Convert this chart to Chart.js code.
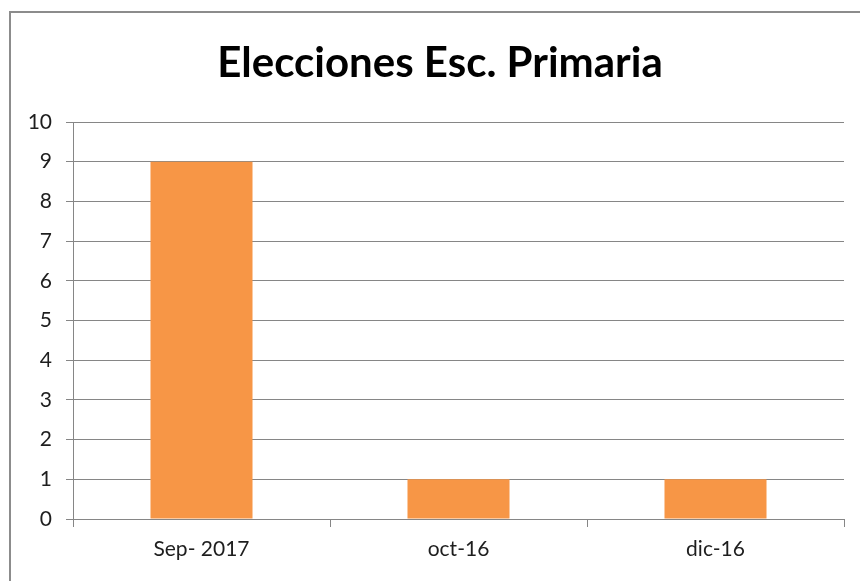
<!DOCTYPE html>
<html>
<head>
<meta charset="utf-8">
<script src="https://cdn.jsdelivr.net/npm/chart.js@4"></script>
<style>
  html, body { margin: 0; padding: 0; background: #fff; overflow: hidden; }
  #wrap { position: relative; width: 860px; height: 581px; }
  #frame { position: absolute; left: 9px; top: 11px; width: 900px; height: 600px;
           border-left: 2px solid #8c8c8c; border-top: 2px solid #8c8c8c; }
  canvas { position: absolute; left: 0; top: 0; }
</style>
</head>
<body>
<div id="wrap">
  <div id="frame"></div>
  <canvas id="chart" width="860" height="581"></canvas>
</div>
<script>
const categories = ['Sep- 2017', 'oct-16', 'dic-16'];
const votes = [9, 1, 1];
const chartTitle = 'Elecciones Esc. Primaria';

const fontFamily = 'Lato, "Open Sans", sans-serif';

// title drawn centred on the whole Excel chart box, not the canvas
const titlePlugin = {
  id: 'boxTitle',
  afterDraw(chart) {
    const ctx = chart.ctx;
    ctx.save();
    ctx.font = 'bold 42px ' + fontFamily;
    ctx.fillStyle = '#000';
    ctx.textAlign = 'center';
    ctx.textBaseline = 'middle';
    ctx.fillText(chartTitle, 440, 63);
    ctx.restore();
  }
};

const data = {
  labels: categories,
  datasets: [{
    label: chartTitle,
    backgroundColor: '#f79646',
    borderWidth: 0,
    data: votes,
    barPercentage: 0.397,
    categoryPercentage: 1
  }]
};

const config = {
  type: 'bar',
  data: data,
  plugins: [titlePlugin],
  options: {
    responsive: false,
    animation: false,
    layout: { padding: { left: 0, right: 16, top: 122, bottom: 0 } },
    plugins: {
      legend: { display: false },
      tooltip: { enabled: false },
      title: { display: false }
    },
    scales: {
      x: {
        grid: { drawOnChartArea: false, drawTicks: true, tickLength: 8, color: '#868686', offset: true },
        border: { color: '#868686' },
        ticks: { color: '#1e1e1e', font: { family: fontFamily, size: 21 }, padding: 10, maxRotation: 0 },
        afterFit: (scale) => { scale.height = 62; }
      },
      y: {
        min: 0,
        max: 10,
        ticks: { stepSize: 1, color: '#1e1e1e', font: { family: fontFamily, size: 21 }, padding: 14 },
        grid: { color: '#868686', tickLength: 7 },
        border: { color: '#868686' },
        afterFit: (scale) => { scale.width = 73; }
      }
    }
  }
};

const myChart = new Chart(document.getElementById('chart'), config);
</script>
</body>
</html>
